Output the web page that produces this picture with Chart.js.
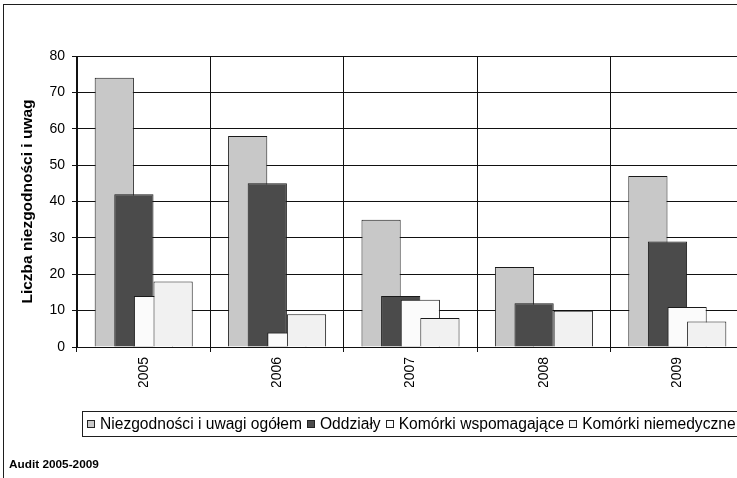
<!DOCTYPE html>
<html lang="pl">
<head>
<meta charset="utf-8">
<title>Audit 2005-2009</title>
<script src="https://cdn.jsdelivr.net/npm/chart.js@4"></script>
<style>
  html, body { margin: 0; padding: 0; background: #fff; overflow: hidden; width: 737px; height: 478px; }
  #frame { position: absolute; left: 3px; top: 4px; width: 800px; height: 520px; border: 1.5px solid #1e1e1e; box-sizing: border-box; }
  #wrap { position: absolute; left: 0; top: 0; width: 760px; height: 478px; }
  #legend { position: absolute; left: 82px; top: 411px; height: 26px; box-sizing: border-box; border: 1px solid #1e1e1e; padding: 0 20px 0 4px; display: flex; align-items: center; white-space: nowrap; font: 15.6px "Liberation Sans", Arial, sans-serif; color: #000; }
  #legend .item { display: flex; align-items: center; margin-right: 5px; }
  #legend .sw { width: 8px; height: 8px; box-sizing: border-box; border: 1px solid #222; margin-right: 5px; }
  #note { position: absolute; left: 9px; top: 457px; font: bold 11.8px "Liberation Sans", Arial, sans-serif; color: #000; }
</style>
</head>
<body>
<div id="wrap"><canvas id="c" width="760" height="478"></canvas></div>
<div id="frame"></div>
<div id="legend"></div>
<div id="note">Audit 2005-2009</div>
<script>
// Years on the category axis
const years = ['2005', '2006', '2007', '2008', '2009'];

// Series names and values per year
const seriesNames = ['Niezgodności i uwagi ogółem', 'Oddziały', 'Komórki wspomagające', 'Komórki niemedyczne'];
const ogolem       = [74, 58, 35, 22, 47];
const oddzialy     = [42, 45, 14, 12, 29];
const wspomagajace = [14, 4, 13, 0, 11];
const niemedyczne  = [18, 9, 8, 10, 7];

// Value axis ticks
const yTicks = [0, 10, 20, 30, 40, 50, 60, 70, 80];

const fills = ['#c8c8c8', '#4b4b4b', '#fbfbfb', '#f1f1f1'];
const seriesValues = [ogolem, oddzialy, wspomagajace, niemedyczne];

const datasets = seriesNames.map((name, i) => ({
  label: name,
  data: seriesValues[i],
  backgroundColor: fills[i],
  borderColor: '#1a1a1a',
  borderWidth: 1,
  borderSkipped: 'bottom',
  // bars twice as wide as their slot, so neighbours overlap by half
  barPercentage: 2,
  categoryPercentage: 0.588
}));

// Paint the series left to right so each later bar lies over the previous one
const paintInOrder = {
  id: 'paintInOrder',
  beforeDatasetsDraw(chart) {
    const metas = chart.getSortedVisibleDatasetMetas();
    const ctx = chart.ctx;
    const a = chart.chartArea;
    ctx.save();
    ctx.beginPath();
    ctx.rect(a.left, a.top - 2, a.right - a.left, a.bottom - a.top + 2);
    ctx.clip();
    metas.forEach(m => m.controller.draw());
    ctx.restore();
    return false;
  }
};

const font = { family: '"Liberation Sans", Arial, sans-serif', size: 14 };

new Chart(document.getElementById('c'), {
  type: 'bar',
  data: { labels: years, datasets },
  plugins: [paintInOrder],
  options: {
    responsive: false,
    animation: false,
    events: [],
    layout: { padding: { left: 0, top: 56, right: 16, bottom: 91 } },
    plugins: { legend: { display: false }, tooltip: { enabled: false } },
    scales: {
      x: {
        grid: { color: '#111', lineWidth: 1, tickLength: 5, tickColor: '#111', offset: true },
        border: { color: '#111', width: 1 },
        ticks: { color: '#000', font, minRotation: 90, maxRotation: 90, padding: 5, autoSkip: false },
        afterFit(s) { s.height = 40; }
      },
      y: {
        min: 0, max: 80,
        afterBuildTicks(s) { s.ticks = yTicks.map(v => ({ value: v })); },
        grid: { color: '#111', lineWidth: 1, tickLength: 5, tickColor: '#111' },
        border: { color: '#111', width: 1 },
        ticks: { color: '#000', font, padding: 7 },
        title: {
          display: true,
          text: 'Liczba niezgodności i uwag',
          color: '#000',
          font: { family: '"Liberation Sans", Arial, sans-serif', size: 15.5, weight: 'bold' },
          padding: { top: 18, bottom: 0 }
        },
        afterFit(s) { s.width = 77; }
      }
    }
  }
});

// Legend row built from the same series lists
const legend = document.getElementById('legend');
seriesNames.forEach((name, i) => {
  const item = document.createElement('span');
  item.className = 'item';
  const sw = document.createElement('span');
  sw.className = 'sw';
  sw.style.background = fills[i];
  item.appendChild(sw);
  item.appendChild(document.createTextNode(name));
  legend.appendChild(item);
});
</script>
</body>
</html>
